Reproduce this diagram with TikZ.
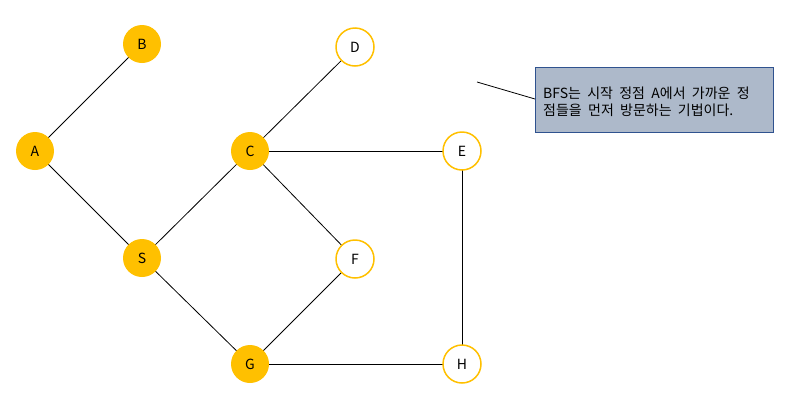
\documentclass[tikz,border=0pt]{standalone}
\usepackage{fontspec}
\setmainfont{Noto Sans CJK KR}
\newfontfamily\notefont[WordSpace=2]{Noto Sans CJK KR}
\begin{document}
\begin{tikzpicture}[x=1pt,y=-1pt,
  vtx/.style={circle,minimum size=38pt,inner sep=0pt,font=\fontsize{14}{16}\selectfont},
  visited/.style={vtx,fill=gold},
  open/.style={vtx,draw=gold,line width=1.5pt,fill=white},
  edge/.style={draw=black,line width=0.8pt},
  note/.style={draw=noteborder,fill=notefill,line width=1pt,anchor=north west,
    minimum width=238pt,minimum height=65pt,inner sep=0pt}]
\definecolor{gold}{HTML}{FFC000}
\definecolor{notefill}{HTML}{ADB9CA}
\definecolor{noteborder}{HTML}{2F528F}
\useasboundingbox (0,0) rectangle (792,405);
% edges first, vertices drawn on top
\coordinate (pA) at (35,151);
\coordinate (pB) at (142,44);
\coordinate (pC) at (250,151);
\coordinate (pD) at (355,47);
\coordinate (pE) at (462,151);
\coordinate (pS) at (142,258);
\coordinate (pF) at (355,259);
\coordinate (pG) at (250,364);
\coordinate (pH) at (462,364);
\draw[edge] (pA) -- (pB);
\draw[edge] (pA) -- (pS);
\draw[edge] (pS) -- (pC);
\draw[edge] (pS) -- (pG);
\draw[edge] (pC) -- (pD);
\draw[edge] (pC) -- (pE);
\draw[edge] (pC) -- (pF);
\draw[edge] (pF) -- (pG);
\draw[edge] (pG) -- (pH);
\draw[edge] (pE) -- (pH);
% vertices
\node[visited] (A) at (pA) {A};
\node[visited] (B) at (pB) {B};
\node[visited] (C) at (pC) {C};
\node[visited] (S) at (pS) {S};
\node[visited] (G) at (pG) {G};
\node[open] (D) at (pD) {D};
\node[open] (E) at (pE) {E};
\node[open] (F) at (pF) {F};
\node[open] (H) at (pH) {H};
% callout note (anchor sits on the baseline of the second line)
\node[note] (box) at (535,67) {};
\node[anchor=base west,inner sep=0pt,align=left,
  font=\notefont\fontsize{14}{17}\selectfont]
  (txt) at (543,115) {BFS는 시작 정점 A에서 가까운 정\\점들을 먼저 방문하는 기법이다.};
\coordinate (tip) at (477,82);
\draw[edge] (tip) -- (box.west |- 0,99);
\end{tikzpicture}
\end{document}
